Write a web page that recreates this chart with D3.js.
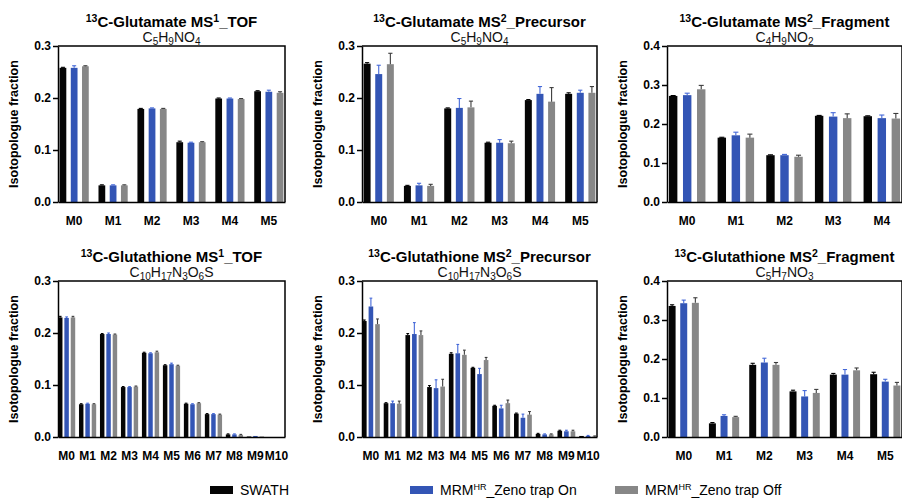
<!DOCTYPE html>
<html>
<head>
<meta charset="utf-8">
<script src="https://cdn.jsdelivr.net/npm/d3@7"></script>
<style>
  body { margin: 0; background: #fff; }
  svg { font-family: "Liberation Sans", Arial, sans-serif; }
</style>
</head>
<body>
<svg width="902" height="499"></svg>
<script>
var WIDTH = 902;
var HEIGHT = 499;

// series + categories
var seriesNames = ['SWATH', 'MRM_HR Zeno trap On', 'MRM_HR Zeno trap Off'];
var seriesColors = ['#050505', '#3355b5', '#878787'];
var errorColors = ['#000000', '#4468d8', '#3c3c3c'];
var isoSix = ['M0', 'M1', 'M2', 'M3', 'M4', 'M5'];
var isoFive = ['M0', 'M1', 'M2', 'M3', 'M4'];
var isoEleven = ['M0', 'M1', 'M2', 'M3', 'M4', 'M5', 'M6', 'M7', 'M8', 'M9', 'M10'];
var ticks03 = [0, 0.1, 0.2, 0.3];
var ticks04 = [0, 0.1, 0.2, 0.3, 0.4];

// 13C-Glutamate MS1_TOF
var gluTofSwath = [0.258, 0.032, 0.179, 0.115, 0.199, 0.213];
var gluTofOn    = [0.258, 0.032, 0.180, 0.114, 0.199, 0.212];
var gluTofOff   = [0.261, 0.032, 0.179, 0.115, 0.198, 0.210];
var gluTofSwathErr = [0.001, 0.001, 0.001, 0.002, 0.001, 0.001];
var gluTofOnErr    = [0.004, 0.001, 0.001, 0.001, 0.001, 0.003];
var gluTofOffErr   = [0.001, 0.001, 0.001, 0.001, 0.001, 0.002];

// 13C-Glutamate MS2_Precursor
var gluPreSwath = [0.266, 0.031, 0.180, 0.114, 0.196, 0.208];
var gluPreOn    = [0.246, 0.032, 0.181, 0.114, 0.208, 0.210];
var gluPreOff   = [0.265, 0.031, 0.182, 0.113, 0.193, 0.210];
var gluPreSwathErr = [0.002, 0.001, 0.001, 0.001, 0.001, 0.002];
var gluPreOnErr    = [0.017, 0.004, 0.018, 0.006, 0.014, 0.005];
var gluPreOffErr   = [0.021, 0.003, 0.012, 0.004, 0.027, 0.012];

// 13C-Glutamate MS2_Fragment
var gluFragSwath = [0.272, 0.165, 0.120, 0.221, 0.220];
var gluFragOn    = [0.274, 0.171, 0.120, 0.219, 0.215];
var gluFragOff   = [0.289, 0.165, 0.116, 0.215, 0.214];
var gluFragSwathErr = [0.001, 0.001, 0.001, 0.001, 0.001];
var gluFragOnErr    = [0.005, 0.008, 0.002, 0.010, 0.008];
var gluFragOffErr   = [0.010, 0.009, 0.004, 0.011, 0.013];

// 13C-Glutathione MS1_TOF
var gshTofSwath = [0.230, 0.063, 0.198, 0.096, 0.162, 0.138, 0.064, 0.044, 0.005, 0.001, 0.000];
var gshTofOn    = [0.229, 0.064, 0.198, 0.096, 0.161, 0.140, 0.063, 0.044, 0.005, 0.002, 0.000];
var gshTofOff   = [0.230, 0.063, 0.197, 0.097, 0.163, 0.137, 0.065, 0.043, 0.004, 0.001, 0.000];
var gshTofSwathErr = [0.002, 0.001, 0.001, 0.001, 0.001, 0.001, 0.001, 0.001, 0.001, 0.000, 0.000];
var gshTofOnErr    = [0.002, 0.001, 0.002, 0.001, 0.001, 0.002, 0.001, 0.001, 0.001, 0.000, 0.000];
var gshTofOffErr   = [0.002, 0.001, 0.001, 0.001, 0.002, 0.001, 0.001, 0.001, 0.001, 0.000, 0.000];

// 13C-Glutathione MS2_Precursor
var gshPreSwath = [0.223, 0.065, 0.196, 0.096, 0.160, 0.133, 0.060, 0.045, 0.006, 0.012, 0.002];
var gshPreOn    = [0.251, 0.065, 0.198, 0.094, 0.161, 0.121, 0.055, 0.037, 0.005, 0.011, 0.002];
var gshPreOff   = [0.217, 0.064, 0.196, 0.097, 0.158, 0.148, 0.065, 0.043, 0.005, 0.011, 0.001];
var gshPreSwathErr = [0.002, 0.001, 0.003, 0.003, 0.002, 0.001, 0.001, 0.001, 0.001, 0.001, 0.000];
var gshPreOnErr    = [0.016, 0.004, 0.022, 0.016, 0.017, 0.011, 0.006, 0.007, 0.001, 0.002, 0.001];
var gshPreOffErr   = [0.010, 0.005, 0.008, 0.014, 0.009, 0.005, 0.006, 0.006, 0.001, 0.002, 0.001];

// 13C-Glutathione MS2_Fragment
var gshFragSwath = [0.336, 0.035, 0.185, 0.117, 0.160, 0.161];
var gshFragOn    = [0.343, 0.054, 0.191, 0.104, 0.160, 0.142];
var gshFragOff   = [0.344, 0.051, 0.185, 0.113, 0.171, 0.132];
var gshFragSwathErr = [0.003, 0.002, 0.004, 0.003, 0.003, 0.005];
var gshFragOnErr    = [0.008, 0.003, 0.011, 0.015, 0.013, 0.006];
var gshFragOffErr   = [0.013, 0.002, 0.006, 0.009, 0.006, 0.008];

var panels = [
  { title: [['13', 'sup'], ['C-Glutamate MS'], ['1', 'sup'], ['_TOF']],
    formula: [['C'], ['5', 'sub'], ['H'], ['9', 'sub'], ['NO'], ['4', 'sub']],
    cats: isoSix, ticks: ticks03,
    means: [gluTofSwath, gluTofOn, gluTofOff], errs: [gluTofSwathErr, gluTofOnErr, gluTofOffErr],
    box: [58, 285, 46, 202] },
  { title: [['13', 'sup'], ['C-Glutamate MS'], ['2', 'sup'], ['_Precursor']],
    formula: [['C'], ['5', 'sub'], ['H'], ['9', 'sub'], ['NO'], ['4', 'sub']],
    cats: isoSix, ticks: ticks03,
    means: [gluPreSwath, gluPreOn, gluPreOff], errs: [gluPreSwathErr, gluPreOnErr, gluPreOffErr],
    box: [362, 597, 46, 202] },
  { title: [['13', 'sup'], ['C-Glutamate MS'], ['2', 'sup'], ['_Fragment']],
    formula: [['C'], ['4', 'sub'], ['H'], ['9', 'sub'], ['NO'], ['2', 'sub']],
    cats: isoFive, ticks: ticks04,
    means: [gluFragSwath, gluFragOn, gluFragOff], errs: [gluFragSwathErr, gluFragOnErr, gluFragOffErr],
    box: [667, 902, 46, 202] },
  { title: [['13', 'sup'], ['C-Glutathione MS'], ['1', 'sup'], ['_TOF']],
    formula: [['C'], ['10', 'sub'], ['H'], ['17', 'sub'], ['N'], ['3', 'sub'], ['O'], ['6', 'sub'], ['S']],
    cats: isoEleven, ticks: ticks03,
    means: [gshTofSwath, gshTofOn, gshTofOff], errs: [gshTofSwathErr, gshTofOnErr, gshTofOffErr],
    box: [58, 285, 281, 437] },
  { title: [['13', 'sup'], ['C-Glutathione MS'], ['2', 'sup'], ['_Precursor']],
    formula: [['C'], ['10', 'sub'], ['H'], ['17', 'sub'], ['N'], ['3', 'sub'], ['O'], ['6', 'sub'], ['S']],
    cats: isoEleven, ticks: ticks03,
    means: [gshPreSwath, gshPreOn, gshPreOff], errs: [gshPreSwathErr, gshPreOnErr, gshPreOffErr],
    box: [362, 597, 281, 437] },
  { title: [['13', 'sup'], ['C-Glutathione MS'], ['2', 'sup'], ['_Fragment']],
    formula: [['C'], ['5', 'sub'], ['H'], ['7', 'sub'], ['NO'], ['3', 'sub']],
    cats: isoSix, ticks: ticks04,
    means: [gshFragSwath, gshFragOn, gshFragOff], errs: [gshFragSwathErr, gshFragOnErr, gshFragOffErr],
    box: [667, 902, 281, 437] }
];

var svg = d3.select('svg')
  .attr('width', WIDTH)
  .attr('height', HEIGHT);

// writes text parts with raised / lowered pieces
function richText(sel, parts, size, small, raise, drop) {
  var shift = 0;
  parts.forEach(function(p) {
    var target = p[1] === 'sup' ? -raise : p[1] === 'sub' ? drop : 0;
    sel.append('tspan')
      .attr('dy', target - shift)
      .style('font-size', (p[1] ? small : size) + 'px')
      .text(p[0]);
    shift = target;
  });
}

panels.forEach(function(p) {
  var left = p.box[0], right = p.box[1], top = p.box[2], bottom = p.box[3];
  var g = svg.append('g');
  var many = p.cats.length > 8;

  var x = d3.scaleBand()
    .domain(p.cats)
    .range([left, right])
    .paddingInner(many ? 0.18 : 0.25)
    .paddingOuter(many ? 0.0 : 0.04);

  var xSub = d3.scaleBand()
    .domain([0, 1, 2])
    .range([0, x.bandwidth()])
    .paddingInner(many ? 0.3 : 0.4);

  var y = d3.scaleLinear()
    .domain([0, p.ticks[p.ticks.length - 1]])
    .range([bottom, top]);

  // bars
  p.means.forEach(function(vals, s) {
    g.selectAll(null)
      .data(vals)
      .enter()
      .append('rect')
      .attr('x', function(d, i) { return x(p.cats[i]) + xSub(s); })
      .attr('y', function(d) { return y(d); })
      .attr('width', xSub.bandwidth())
      .attr('height', function(d) { return y(0) - y(d); })
      .attr('fill', seriesColors[s]);

    // error bars, upper half only
    var errs = p.errs[s];
    var eg = g.selectAll(null)
      .data(vals)
      .enter()
      .filter(function(d, i) { return errs[i] > 0; })
      .append('g')
      .attr('stroke', errorColors[s])
      .attr('stroke-width', 1.1);
    eg.append('line')
      .attr('x1', function(d, i) { return x(p.cats[i]) + xSub(s) + xSub.bandwidth() / 2; })
      .attr('x2', function(d, i) { return x(p.cats[i]) + xSub(s) + xSub.bandwidth() / 2; })
      .attr('y1', function(d) { return y(d); })
      .attr('y2', function(d, i) { return y(d + errs[i]); });
    eg.append('line')
      .attr('x1', function(d, i) { return x(p.cats[i]) + xSub(s) + xSub.bandwidth() * 0.2; })
      .attr('x2', function(d, i) { return x(p.cats[i]) + xSub(s) + xSub.bandwidth() * 0.8; })
      .attr('y1', function(d, i) { return y(d + errs[i]); })
      .attr('y2', function(d, i) { return y(d + errs[i]); });
  });

  // frame: top and right
  g.append('path')
    .attr('d', 'M' + left + ',' + top + 'H' + right + 'V' + bottom)
    .attr('fill', 'none')
    .attr('stroke', '#000')
    .attr('stroke-width', 1.5);

  var yAxis = g.append('g')
    .attr('transform', 'translate(' + left + ',0)')
    .call(d3.axisLeft(y)
      .tickValues(p.ticks)
      .tickFormat(d3.format('.1f'))
      .tickSize(5)
      .tickSizeOuter(0)
      .tickPadding(2));

  var xAxis = g.append('g')
    .attr('transform', 'translate(0,' + bottom + ')')
    .call(d3.axisBottom(x)
      .tickSize(0)
      .tickSizeOuter(0)
      .tickPadding(14));

  [yAxis, xAxis].forEach(function(a) {
    a.select('.domain').attr('stroke-width', 1.5);
    a.selectAll('.tick line').attr('stroke-width', 1.5);
    a.selectAll('text')
      .attr('fill', '#000')
      .style('font-size', '12px')
      .style('font-weight', 'bold')
      .style('font-family', '"Liberation Sans", Arial, sans-serif');
  });

  // y label
  g.append('text')
    .attr('transform', 'translate(' + (left - 40) + ',' + ((top + bottom) / 2) + ') rotate(-90)')
    .attr('text-anchor', 'middle')
    .style('font-size', '12.5px')
    .style('font-weight', 'bold')
    .text('Isotopologue fraction');

  var cx = (left + right) / 2;
  var title = g.append('text')
    .attr('x', cx)
    .attr('y', top - 19)
    .attr('text-anchor', 'middle')
    .style('font-weight', 'bold');
  richText(title, p.title, 15, 10.5, 5.5, 0);

  var formula = g.append('text')
    .attr('x', cx)
    .attr('y', top - 4)
    .attr('text-anchor', 'middle')
    .attr('fill', '#111');
  richText(formula, p.formula, 14, 10, 0, 3);
});

// legend
var legendX = [210, 410, 615];
var legendText = [
  [['SWATH']],
  [['MRM'], ['HR', 'sup'], ['_Zeno trap On']],
  [['MRM'], ['HR', 'sup'], ['_Zeno trap Off']]
];
var lg = svg.append('g');
seriesNames.forEach(function(name, i) {
  lg.append('rect')
    .attr('x', legendX[i])
    .attr('y', 486)
    .attr('width', 23)
    .attr('height', 8)
    .attr('fill', seriesColors[i]);
  var t = lg.append('text')
    .attr('x', legendX[i] + 30)
    .attr('y', 495);
  richText(t, legendText[i], 14, 9, 5, 0);
});
</script>
</body>
</html>
